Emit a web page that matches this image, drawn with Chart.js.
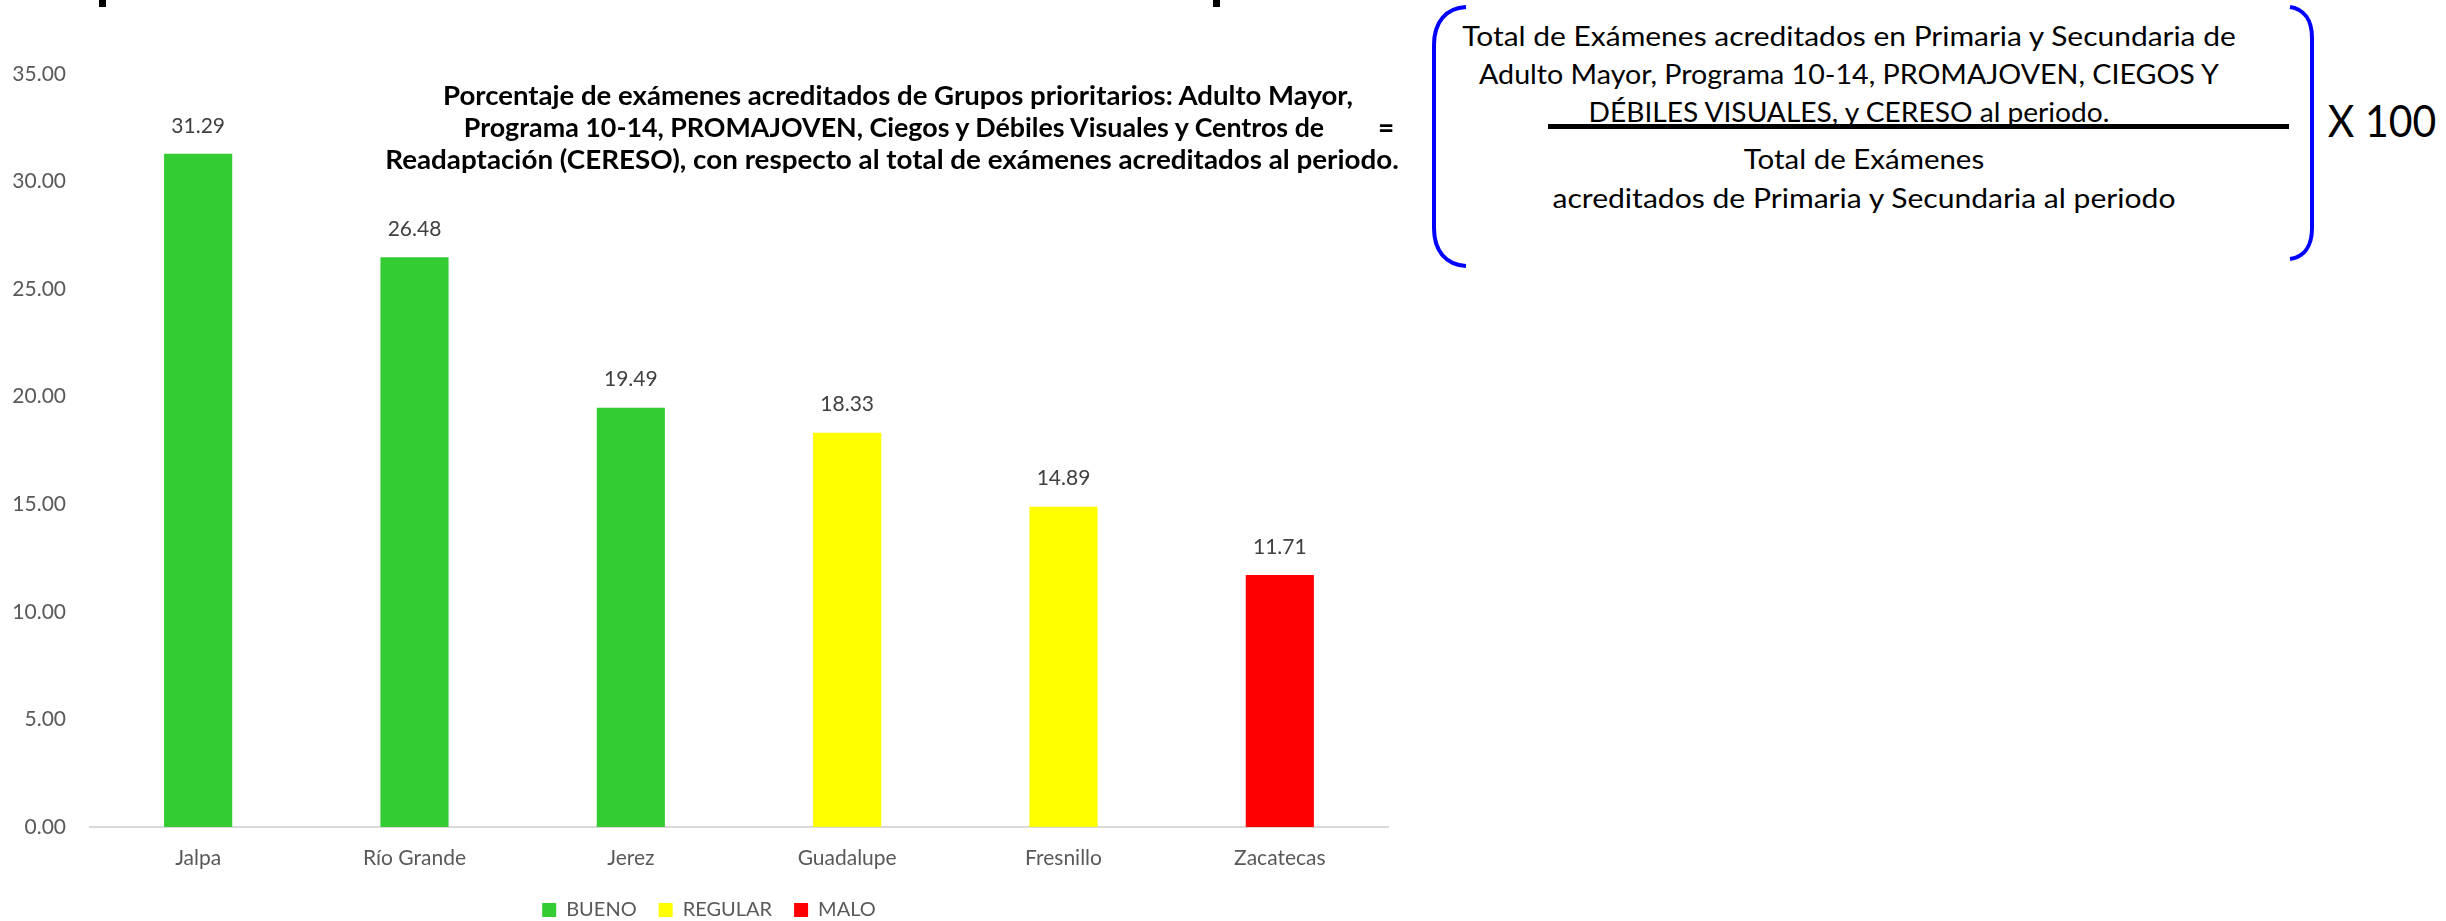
<!DOCTYPE html>
<html>
<head>
<meta charset="utf-8">
<script src="https://cdn.jsdelivr.net/npm/chart.js@4/dist/chart.umd.min.js"></script>
<style>
html, body { margin: 0; padding: 0; background: #ffffff; width: 2446px; height: 921px; overflow: hidden; }
#chartBox { position: absolute; left: 0; top: 0; width: 1420px; height: 930px; }
.t { position: absolute; white-space: nowrap; line-height: 1; color: #000; font-family: Lato, "Open Sans", sans-serif; }
.title { font-weight: bold; font-size: 26px; }
.frm { font-size: 27px; }
.mark { position: absolute; top: 0; width: 7px; height: 7px; background: #000; }
#bar { position: absolute; left: 1548px; top: 124px; width: 741px; height: 5px; background: #000; }
svg { position: absolute; left: 0; top: 0; }
</style>
</head>
<body>
<div class="mark" style="left:99px"></div>
<div class="mark" style="left:1213px"></div>

<div id="chartBox"><canvas id="c"></canvas></div>

<div class="t title" data-cx="898" data-cy="95" data-fit="910">Porcentaje de exámenes acreditados de Grupos prioritarios: Adulto Mayor,</div>
<div class="t title" data-cx="894" data-cy="127" data-fit="860">Programa 10-14, PROMAJOVEN, Ciegos y Débiles Visuales y Centros de</div>
<div class="t title" data-cx="892" data-cy="159" data-fit="1014">Readaptación (CERESO), con respecto al total de exámenes acreditados al periodo.</div>
<div class="t title" style="font-size:28px" data-cx="1386" data-cy="127">=</div>

<div class="t frm" data-cx="1849" data-cy="35" data-fit="773">Total de Exámenes acreditados en Primaria y Secundaria de</div>
<div class="t frm" data-cx="1849" data-cy="73" data-fit="740">Adulto Mayor, Programa 10-14, PROMAJOVEN, CIEGOS Y</div>
<div class="t frm" data-cx="1849" data-cy="111" data-fit="521">DÉBILES VISUALES, y CERESO al periodo.</div>
<div class="t frm" data-cx="1864" data-cy="158" data-fit="240">Total de Exámenes</div>
<div class="t frm" data-cx="1864" data-cy="197" data-fit="623">acreditados de Primaria y Secundaria al periodo</div>
<div class="t" style="font-size:44px" data-cx="2382" data-cy="120" data-fit="108">X 100</div>
<div id="bar"></div>

<svg width="2446" height="921">
  <path d="M1466 7 C1446 8 1434 22 1434 45 L1434 228 C1434 251 1446 265 1466 266" fill="none" stroke="#0000FF" stroke-width="4"/>
  <path d="M2290 7 C2304 9 2312 20 2312 38 L2312 228 C2312 246 2304 257 2290 259" fill="none" stroke="#0000FF" stroke-width="4"/>
</svg>

<script>
// ---- data ----
const categories = ['Jalpa', 'Río Grande', 'Jerez', 'Guadalupe', 'Fresnillo', 'Zacatecas'];
const values = [31.29, 26.48, 19.49, 18.33, 14.89, 11.71];
const ratings = ['BUENO', 'BUENO', 'BUENO', 'REGULAR', 'REGULAR', 'MALO'];
const ratingNames = ['BUENO', 'REGULAR', 'MALO'];
const ratingColors = ['#33CC33', '#FFFF00', '#FF0000'];
const yMin = 0, yMax = 35, yStep = 5;

// ---- text fitting (emulates the narrow original face) ----
function layoutText() {
  document.querySelectorAll('.t').forEach(el => {
    const s = el.dataset.fit ? (+el.dataset.fit) / el.offsetWidth : 1;
    el.style.left = el.dataset.cx + 'px';
    el.style.top = el.dataset.cy + 'px';
    el.style.transform = 'translate(-50%,-50%) scaleX(' + s + ')';
  });
}

// ---- chart ----
const datasets = ratingNames.map((r, i) => ({
  label: r,
  data: values.map((v, j) => ratings[j] === r ? v : null),
  backgroundColor: ratingColors[i],
  borderWidth: 0,
  categoryPercentage: 1,
  barPercentage: 0.315,
  skipNull: true
}));

const FONT = 'Lato, "Open Sans", sans-serif';

const valueLabels = {
  id: 'valueLabels',
  afterDatasetsDraw(chart) {
    const ctx = chart.ctx;
    ctx.save();
    ctx.font = '21px ' + FONT;
    ctx.fillStyle = '#404040';
    ctx.textAlign = 'center';
    ctx.textBaseline = 'middle';
    chart.data.datasets.forEach((ds, di) => {
      const meta = chart.getDatasetMeta(di);
      meta.data.forEach((el, i) => {
        const v = ds.data[i];
        if (v === null || v === undefined) return;
        ctx.fillText(v.toFixed(2), el.x, el.y - 28);
      });
    });
    ctx.restore();
  }
};

// legend in the original sits centred on the whole chart object, a bit right of the plot centre
const legendShift = {
  id: 'legendShift',
  afterLayout(chart) {
    if (chart.legend) { chart.legend.left += 15; chart.legend.right += 15; }
  }
};

function makeChart() {
  new Chart(document.getElementById('c'), {
    type: 'bar',
    data: { labels: categories, datasets },
    options: {
      responsive: true,
      maintainAspectRatio: false,
      animation: false,
      layout: { padding: { left: 0, right: 32, top: 74, bottom: 0 } },
      plugins: {
        title: { display: false },
        tooltip: { enabled: false },
        legend: {
          position: 'bottom',
          labels: {
            boxWidth: 14, boxHeight: 14, padding: 22,
            color: '#595959',
            font: { family: FONT, size: 20 }
          }
        }
      },
      scales: {
        x: {
          grid: { display: false, drawTicks: false },
          border: { display: true, color: '#D9D9D9', width: 2 },
          ticks: { color: '#595959', padding: 19, font: { family: FONT, size: 21 } },
          afterFit: (s) => { s.height = 51; }
        },
        y: {
          min: yMin, max: yMax,
          grid: { display: false, drawTicks: false },
          border: { display: false },
          ticks: {
            stepSize: yStep,
            color: '#595959',
            padding: 24,
            font: { family: FONT, size: 21 },
            callback: (v) => Number(v).toFixed(2)
          },
          afterFit: (s) => { s.width = 90; }
        }
      }
    },
    plugins: [valueLabels, legendShift]
  });
}

const go = () => { layoutText(); makeChart(); };
if (document.fonts && document.fonts.load) {
  Promise.all([
    document.fonts.load('20px Lato'),
    document.fonts.load('bold 26px Lato')
  ]).then(go, go);
} else { go(); }
</script>
</body>
</html>
